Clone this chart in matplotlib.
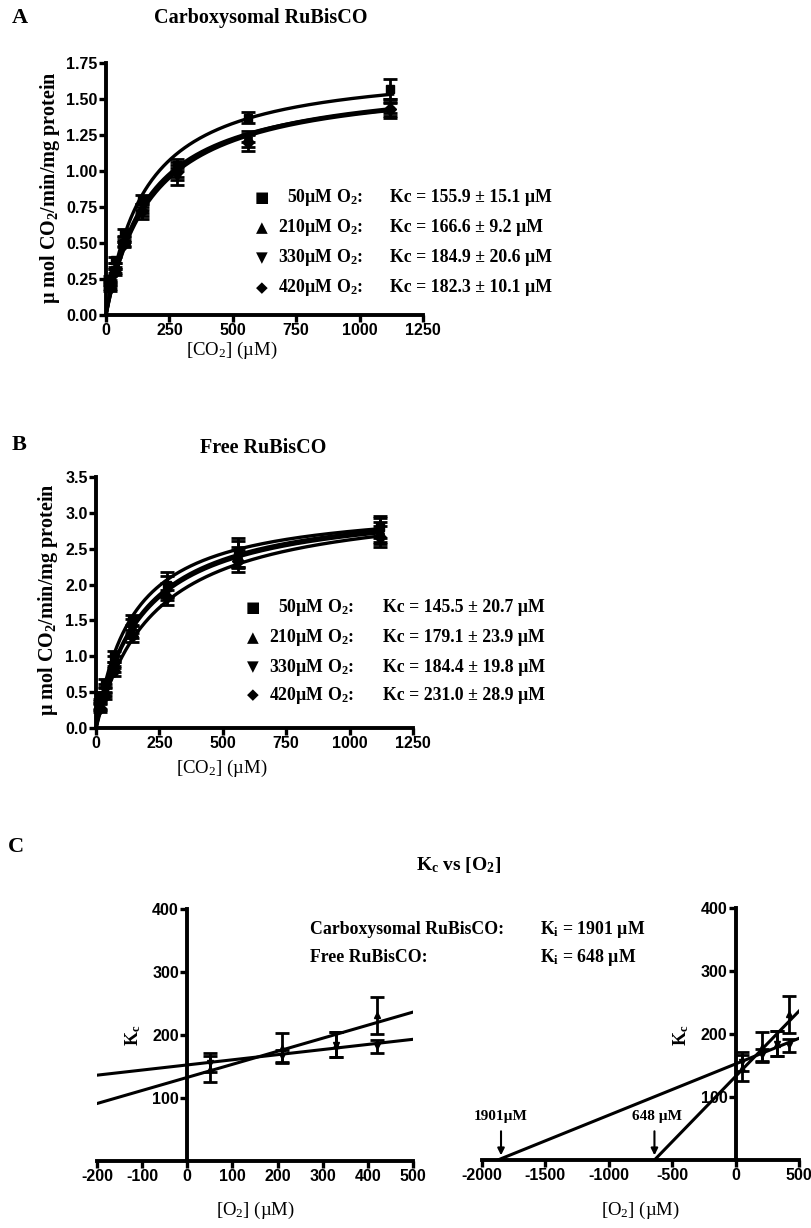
import numpy as np
import matplotlib
matplotlib.use('Agg')
import matplotlib.pyplot as plt

plt.rcParams['mathtext.fontset'] = 'custom'
plt.rcParams['mathtext.rm'] = 'Liberation Serif'
plt.rcParams['mathtext.bf'] = 'Liberation Serif:bold'
plt.rcParams['mathtext.it'] = 'Liberation Serif:italic'
plt.rcParams['axes.unicode_minus'] = False

SERIF = ['Liberation Serif', 'DejaVu Serif']
SANS = ['Liberation Sans', 'DejaVu Sans']

# ---- data ----
co2 = [17.5, 35, 70, 140, 280, 560, 1120]
o2_labels = ['50µM O$_\\mathbf{2}$:', '210µM O$_\\mathbf{2}$:', '330µM O$_\\mathbf{2}$:', '420µM O$_\\mathbf{2}$:']
markers = ['s', '^', 'v', 'D']
legend_syms = ['■', '▲', '▼', '◆']

# panel A: carboxysomal
carb_km = [155.9, 166.6, 184.9, 182.3]
carb_km_err = [15.1, 9.2, 20.6, 10.1]
carb_vmax = [1.745, 1.635, 1.655, 1.665]
carb_rates = [
    [0.25, 0.38, 0.57, 0.80, 1.04, 1.37, 1.57],
    [0.22, 0.34, 0.53, 0.74, 1.01, 1.24, 1.45],
    [0.20, 0.31, 0.50, 0.70, 0.96, 1.21, 1.42],
    [0.19, 0.30, 0.49, 0.72, 0.99, 1.20, 1.43],
]
carb_err = [
    [0.02, 0.02, 0.03, 0.03, 0.04, 0.04, 0.07],
    [0.02, 0.02, 0.02, 0.03, 0.05, 0.04, 0.05],
    [0.02, 0.02, 0.02, 0.03, 0.06, 0.04, 0.05],
    [0.02, 0.02, 0.02, 0.03, 0.05, 0.06, 0.05],
]

# panel B: free
free_km = [145.5, 179.1, 184.4, 231.0]
free_km_err = [20.7, 23.9, 19.8, 28.9]
free_vmax = [3.14, 3.19, 3.17, 3.23]
free_rates = [
    [0.45, 0.63, 1.00, 1.50, 2.00, 2.45, 2.80],
    [0.32, 0.55, 0.92, 1.42, 1.97, 2.43, 2.76],
    [0.30, 0.50, 0.85, 1.35, 1.90, 2.38, 2.72],
    [0.28, 0.45, 0.80, 1.28, 1.82, 2.33, 2.67],
]
free_err = [
    [0.05, 0.06, 0.08, 0.08, 0.18, 0.20, 0.15],
    [0.05, 0.06, 0.08, 0.10, 0.15, 0.18, 0.17],
    [0.05, 0.06, 0.07, 0.09, 0.12, 0.15, 0.15],
    [0.05, 0.05, 0.07, 0.08, 0.10, 0.15, 0.14],
]

# panel C: Kc vs O2
o2 = [50, 210, 330, 420]
fit_intercept = {'carb': 152.5, 'free': 132.7}
fit_xint = {'carb': -1875, 'free': -640}
ki_text = {'carb': 1901, 'free': 648}

W, H = 812, 1228
fig = plt.figure(figsize=(W / 100, H / 100), dpi=100)


def px_axes(l, t, r, b):
    return fig.add_axes([l / W, 1 - b / H, (r - l) / W, (b - t) / H])


def ftext(x, y, s, **kw):
    fig.text(x / W, 1 - y / H, s, **kw)


def style_axes(ax):
    for s in ['top', 'right']:
        ax.spines[s].set_visible(False)
    for s in ['left', 'bottom']:
        ax.spines[s].set_linewidth(2.8)
    ax.tick_params(direction='out', width=2.4, length=5, labelsize=11.5, pad=1)
    for lbl in ax.get_xticklabels() + ax.get_yticklabels():
        lbl.set_family(SANS)
        lbl.set_fontweight('bold')


def mm_panel(ax, rates, errs, vmax, km):
    xs = np.linspace(0, 1130, 300)
    for i in range(4):
        ax.plot(xs, vmax[i] * xs / (km[i] + xs), color='black', lw=2.4, zorder=2)
        ax.errorbar(co2, rates[i], yerr=errs[i], fmt=markers[i], color='black',
                    ms=6, capsize=5, capthick=2, elinewidth=2, zorder=3, clip_on=False)
    ax.set_xlim(0, 1250)
    ax.set_xticks([0, 250, 500, 750, 1000, 1250])


# ---- panel A ----
axA = px_axes(106, 63, 423, 315)
mm_panel(axA, carb_rates, carb_err, carb_vmax, carb_km)
axA.set_ylim(0, 1.75)
axA.set_yticks(np.arange(0, 1.76, 0.25))
axA.yaxis.set_major_formatter(matplotlib.ticker.FormatStrFormatter('%.2f'))
style_axes(axA)
ftext(20, 18, 'A', family=SERIF, fontweight='bold', fontsize=16, ha='center', va='center')
ftext(261, 18, 'Carboxysomal RuBisCO', family=SERIF, fontweight='bold', fontsize=14.5, ha='center', va='center')
ftext(50, 188, 'µ mol CO$_\\mathbf{2}$/min/mg protein', family=SERIF, fontweight='bold', fontsize=14.5,
      rotation=90, ha='center', va='center')
ftext(232, 350, '[CO$_2$] (µM)', family=SERIF, fontsize=13.5, ha='center', va='center')
for i, y in enumerate([198, 228, 258, 288]):
    ftext(262, y, legend_syms[i], family=['DejaVu Sans'], fontsize=11, ha='center', va='center')
    ftext(363, y, o2_labels[i], family=SERIF, fontweight='bold', fontsize=12.8, ha='right', va='center')
    ftext(390, y, 'Kc = %.1f ± %.1f µM' % (carb_km[i], carb_km_err[i]), family=SERIF,
          fontweight='bold', fontsize=12.8, ha='left', va='center')

# ---- panel B ----
axB = px_axes(96, 477, 413, 728)
mm_panel(axB, free_rates, free_err, free_vmax, free_km)
axB.set_ylim(0, 3.5)
axB.set_yticks(np.arange(0, 3.51, 0.5))
axB.yaxis.set_major_formatter(matplotlib.ticker.FormatStrFormatter('%.1f'))
style_axes(axB)
ftext(19, 445, 'B', family=SERIF, fontweight='bold', fontsize=16, ha='center', va='center')
ftext(263, 448, 'Free RuBisCO', family=SERIF, fontweight='bold', fontsize=14.5, ha='center', va='center')
ftext(48, 600, 'µ mol CO$_\\mathbf{2}$/min/mg protein', family=SERIF, fontweight='bold', fontsize=14.5,
      rotation=90, ha='center', va='center')
ftext(222, 768, '[CO$_2$] (µM)', family=SERIF, fontsize=13.5, ha='center', va='center')
for i, y in enumerate([607, 638, 667, 695]):
    ftext(253, y, legend_syms[i], family=['DejaVu Sans'], fontsize=11, ha='center', va='center')
    ftext(354, y, o2_labels[i], family=SERIF, fontweight='bold', fontsize=12.8, ha='right', va='center')
    ftext(383, y, 'Kc = %.1f ± %.1f µM' % (free_km[i], free_km_err[i]), family=SERIF,
          fontweight='bold', fontsize=12.8, ha='left', va='center')


# ---- panel C ----
def kc_panel(ax, xmin, xmax):
    for key, km, kerr, mk in [('carb', carb_km, carb_km_err, 'v'), ('free', free_km, free_km_err, '^')]:
        xs = np.array([max(xmin, fit_xint[key]), xmax])
        ax.plot(xs, fit_intercept[key] * (1 - xs / fit_xint[key]), color='black', lw=2.2, zorder=2)
        ax.errorbar(o2, km, yerr=kerr, fmt=mk, color='black', ms=5, capsize=5,
                    capthick=2, elinewidth=2, zorder=3, clip_on=False)
    ax.set_xlim(xmin, xmax)
    ax.set_ylim(0, 400)
    ax.set_yticks([100, 200, 300, 400])
    ax.spines['left'].set_position(('data', 0))
    style_axes(ax)


axC1 = px_axes(97, 909, 413, 1161)
kc_panel(axC1, -200, 500)
axC1.set_xticks(range(-200, 501, 100))
axC1.set_ylabel('K$_\\mathbf{c}$', family=SERIF, fontweight='bold', fontsize=13)
axC1.yaxis.set_label_coords((143 - 97) / 316, (1161 - 1035) / 252)

axC2 = px_axes(482, 908, 799, 1160)
kc_panel(axC2, -2000, 500)
axC2.set_xticks(range(-2000, 501, 500))
axC2.set_ylabel('K$_\\mathbf{c}$', family=SERIF, fontweight='bold', fontsize=13)
axC2.yaxis.set_label_coords((691 - 482) / 317, (1160 - 1035) / 252)
for key, lx in [('carb', -1850), ('free', -640)]:
    axC2.annotate('', xy=(lx, 3), xytext=(lx, 50),
                  arrowprops=dict(arrowstyle='-|>', color='black', lw=1.5, mutation_scale=10))
axC2.text(-1850, 58, '%dµM' % ki_text['carb'], family=SERIF, fontweight='bold', fontsize=11,
          ha='center', va='bottom')
axC2.text(-620, 58, '%d µM' % ki_text['free'], family=SERIF, fontweight='bold', fontsize=11,
          ha='center', va='bottom')

ftext(16, 847, 'C', family=SERIF, fontweight='bold', fontsize=16, ha='center', va='center')
ftext(459, 865, 'K$_\\mathbf{c}$ vs [O$_\\mathbf{2}$]', family=SERIF, fontweight='bold', fontsize=14,
      ha='center', va='center')
ftext(310, 929, 'Carboxysomal RuBisCO:', family=SERIF, fontweight='bold', fontsize=12.8, ha='left', va='center')
ftext(310, 958, 'Free RuBisCO:', family=SERIF, fontweight='bold', fontsize=12.8, ha='left', va='center')
ftext(540, 929, 'K$_\\mathbf{i}$ = %d µM' % ki_text['carb'], family=SERIF, fontweight='bold', fontsize=12.8,
      ha='left', va='center')
ftext(540, 958, 'K$_\\mathbf{i}$ = %d µM' % ki_text['free'], family=SERIF, fontweight='bold', fontsize=12.8,
      ha='left', va='center')
ftext(255, 1210, '[O$_2$] (µM)', family=SERIF, fontsize=13.5, ha='center', va='center')
ftext(640, 1210, '[O$_2$] (µM)', family=SERIF, fontsize=13.5, ha='center', va='center')

fig.savefig('out.png', dpi=100)
